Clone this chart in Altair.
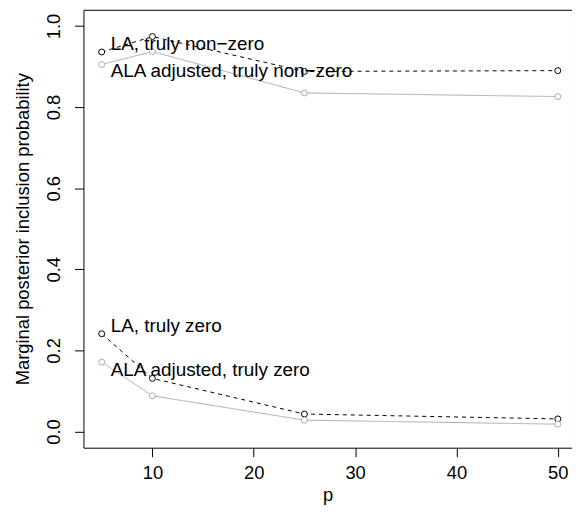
import altair as alt
import pandas as pd

# ---- data ----
p_values = [5, 10, 25, 50]
la_nonzero = [0.936, 0.974, 0.888, 0.890]
ala_nonzero = [0.905, 0.937, 0.835, 0.826]
la_zero = [0.241, 0.131, 0.043, 0.031]
ala_zero = [0.171, 0.088, 0.028, 0.018]

series_names = ["LA nonzero", "ALA nonzero", "LA zero", "ALA zero"]
series_methods = ["LA", "ALA", "LA", "ALA"]
series_values = [la_nonzero, ala_nonzero, la_zero, ala_zero]

label_texts = ["LA, truly non\u2212zero", "ALA adjusted, truly non\u2212zero",
               "LA, truly zero", "ALA adjusted, truly zero"]
label_x = [5, 5, 5, 5]
label_y = [0.940, 0.874, 0.246, 0.137]

x_ticks = [10, 20, 30, 40, 50]
y_ticks = [0.0, 0.2, 0.4, 0.6, 0.8, 1.0]

rows = []
for name, method, vals in zip(series_names, series_methods, series_values):
    for p, v in zip(p_values, vals):
        rows.append({"series": name, "method": method, "p": p, "prob": v})
df = pd.DataFrame(rows)
labels = pd.DataFrame({"text": label_texts, "p": label_x, "prob": label_y})

FONT = "Liberation Sans"
GRAY = "#A9A9A9"

x_scale = alt.Scale(domain=[3.2, 51.4], nice=False, zero=False)
y_scale = alt.Scale(domain=[-0.04, 1.04], nice=False, zero=False)
color_scale = alt.Scale(domain=["LA", "ALA"], range=["black", GRAY])
dash_scale = alt.Scale(domain=["LA", "ALA"], range=[[4, 4], [1, 0]])

x_enc = alt.X("p:Q", scale=x_scale, title="p",
              axis=alt.Axis(values=x_ticks, format="d", labelPadding=7.5,
                            labelBaseline="top", titleX=246, titleY=53.6,
                            titleBaseline="alphabetic", titleAlign="center"))
y_enc = alt.Y("prob:Q", scale=y_scale, title="Marginal posterior inclusion probability",
              axis=alt.Axis(values=y_ticks, format=".1f", labelAngle=270,
                            labelAlign="center", labelBaseline="alphabetic",
                            labelPadding=15, titleAngle=270, titleX=-55.5,
                            titleY=220.5, titleBaseline="alphabetic",
                            titleAlign="center"))

lines = alt.Chart(df).mark_line(strokeWidth=1).encode(
    x=x_enc, y=y_enc,
    color=alt.Color("method:N", scale=color_scale, legend=None),
    strokeDash=alt.StrokeDash("method:N", scale=dash_scale, legend=None),
    detail="series:N",
)

points = alt.Chart(df).mark_point(shape="circle", size=36, strokeWidth=1,
                                  fill="white", fillOpacity=1, opacity=1).encode(
    x=x_enc, y=y_enc,
    stroke=alt.Stroke("method:N", scale=color_scale, legend=None),
)

texts = alt.Chart(labels).mark_text(align="left", baseline="alphabetic", dx=9,
                                    font=FONT, fontSize=19, color="black").encode(
    x=x_enc, y=y_enc, text="text:N",
)

chart = alt.layer(lines, points, texts).properties(
    width=492, height=441,
    background="white",
    autosize=alt.AutoSizeParams(type="none"),
    padding={"left": 76, "top": 0, "right": 0, "bottom": 70},
).configure_view(
    stroke="black", strokeWidth=1, fill="white",
).configure_axis(
    domain=False, grid=False, tickColor="black", tickSize=9, tickWidth=1,
    labelColor="black", labelFont=FONT, labelFontSize=18.5,
    labelFlush=False, labelOverlap=False,
    titleColor="black", titleFont=FONT, titleFontSize=18.5, titleFontWeight="normal",
)

chart.save("out.html", embed_options={"renderer": "svg", "actions": False})
